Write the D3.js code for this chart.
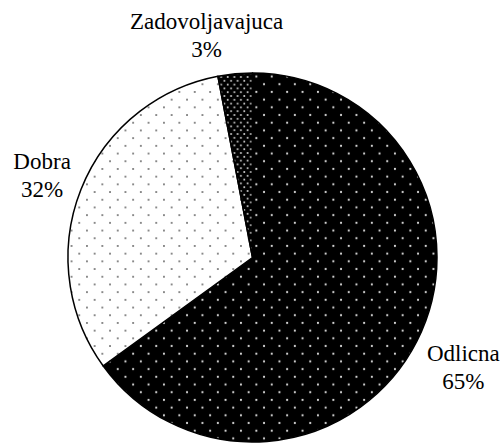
<!DOCTYPE html>
<html>
<head>
<meta charset="utf-8">
<script src="https://cdn.jsdelivr.net/npm/d3@7"></script>
<style>
  body { margin: 0; background: #fff; }
  svg { display: block; }
</style>
</head>
<body>
<div id="chart"></div>
<script>
// ocjene (share of answers, %)
const categories = ["Odlicna", "Dobra", "Zadovoljavajuca"];
const shares = [65, 32, 3];
const shareLabels = ["65%", "32%", "3%"];

const width = 504, height = 444;
const cx = 252.5, cy = 257.5, radius = 184.5;
const labelFont = '"Liberation Serif"';

const svg = d3.select("#chart")
              .append("svg")
              .attr("width", width)
              .attr("height", height);

// fill patterns, one per slice
const defs = svg.append("defs");

function dotPattern(id, w, h, bg, dot, r) {
    const p = defs.append("pattern")
                  .attr("id", id)
                  .attr("patternUnits", "userSpaceOnUse")
                  .attr("width", w)
                  .attr("height", h);
    p.append("rect").attr("width", w).attr("height", h).attr("fill", bg);
    p.append("circle").attr("cx", w / 4).attr("cy", h / 4).attr("r", r).attr("fill", dot);
    p.append("circle").attr("cx", w * 3 / 4).attr("cy", h * 3 / 4).attr("r", r).attr("fill", dot);
}
dotPattern("pat-odlicna", 15.4, 15.4, "#000", "#d8d8d8", 1.1);
dotPattern("pat-dobra", 15.4, 15.4, "#fff", "#555", 0.9);
dotPattern("pat-zad", 6.6, 7.6, "#000", "#d0d0d0", 1.0);
const fills = ["url(#pat-odlicna)", "url(#pat-dobra)", "url(#pat-zad)"];

const data = categories.map((c, i) => ({ name: c, value: shares[i], label: shareLabels[i], fill: fills[i] }));

const pie = d3.pie().sort(null).value(d => d.value);
const arc = d3.arc().innerRadius(0).outerRadius(radius);

const g = svg.append("g").attr("transform", `translate(${cx},${cy})`);

g.selectAll("path.slice")
 .data(pie(data))
 .enter()
 .append("path")
 .attr("class", "slice")
 .attr("d", arc)
 .attr("fill", d => d.data.fill)
 .attr("stroke", "#000")
 .attr("stroke-width", 1.5)
 .attr("stroke-linejoin", "round");

// labels sit outside the pie, a bit shifted like Excel does
const labelRadius = 222;
const nudge = { "Odlicna": [13, 9], "Dobra": [-4, -1], "Zadovoljavajuca": [-25, -1.5] };
const lineGap = 28;

pie(data).forEach(d => {
    const mid = (d.startAngle + d.endAngle) / 2;
    const n = nudge[d.data.name];
    const x = Math.sin(mid) * labelRadius + n[0];
    const y = -Math.cos(mid) * labelRadius + n[1];
    [d.data.name, d.data.label].forEach((line, k) => {
        g.append("text")
         .attr("x", x)
         .attr("y", y + (k - 0.5) * lineGap + 8)
         .attr("text-anchor", "middle")
         .style("font-family", labelFont)
         .style("font-size", "23px")
         .style("fill", "#000")
         .text(line);
    });
});
</script>
</body>
</html>
